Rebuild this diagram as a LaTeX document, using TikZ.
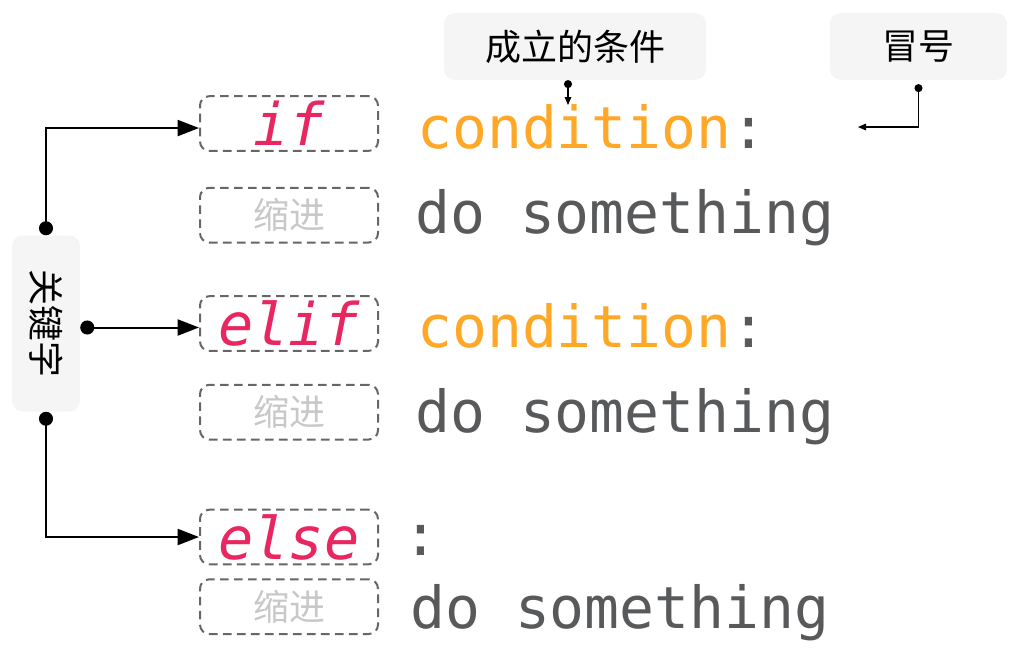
\documentclass[tikz,border=0pt]{standalone}
\usepackage{fontspec}
\usepackage{graphicx}
\usepackage{xcolor}
\usetikzlibrary{arrows.meta, positioning}
\newfontfamily\cjkfont{Noto Sans CJK SC}
\newfontfamily\codefont{DejaVu Sans Mono}
\definecolor{condorange}{HTML}{FFA726}
\definecolor{kwpink}{HTML}{E8265F}
\definecolor{codegray}{HTML}{58595B}
\definecolor{dashgray}{HTML}{666666}
\definecolor{indentgray}{HTML}{C8C8C8}
\definecolor{lblfill}{HTML}{F5F5F5}

\begin{document}
\begin{tikzpicture}[
            x=0.75pt, y=-0.75pt,
            kwbox/.style={draw=dashgray, line width=1.5pt, dash pattern=on 6.5pt off 4pt, rounded corners=7pt,
                minimum width=133.5pt, minimum height=41pt, inner sep=0pt, text=kwpink,
                font=\codefont\itshape\fontsize{44}{44}\selectfont},
            indentbox/.style={kwbox, text=indentgray, font=\cjkfont\fontsize{27}{27}\selectfont},
            lblbox/.style={fill=lblfill, rounded corners=8pt, inner sep=0pt, font=\cjkfont\fontsize{27}{27}\selectfont},
            code/.style={anchor=base west, inner sep=0pt, text=codegray, font=\codefont\fontsize{43.5}{43.5}\selectfont},
            arrowbig/.style={{Circle[length=10.5pt]}-{Triangle[length=16pt, width=12pt]}, line width=1.5pt},
            arrowsmall/.style={{Circle[length=6pt]}-{Triangle[length=6pt, width=5pt]}, line width=0.8pt},
        ]
            \useasboundingbox (0,0) rectangle (1031,654);

            % Keywords and indents
            \node[kwbox] (ifkw) at (289,123.5) {if};
            \node[indentbox, below=26.25pt of ifkw] (indent1) {缩进};
            \node[kwbox] (elifkw) at (289,323.5) {elif};
            \node[indentbox, below=24pt of elifkw] (indent2) {缩进};
            \node[kwbox] (elsekw) at (289,537) {else};
            \node[indentbox, below=9.75pt of elsekw] (indent3) {缩进};

            % Code
            \node[code] (cond1) at (417,148) {\textcolor{condorange}{condition}:};
            \node[code] (body1) at (415,233) {do something};
            \node[code] (cond2) at (417,347) {\textcolor{condorange}{condition}:};
            \node[code] (body2) at (415,432) {do something};
            \node[code] (colon3) at (403,555) {:};
            \node[code] (body3) at (410,628) {do something};

            % Labels
            \node[lblbox, minimum width=51pt, minimum height=132pt] (kw) at (46,323.5) {\rotatebox{-90}{关键字}};
            \node[lblbox, minimum width=196.5pt, minimum height=50pt] (condlbl) at (575,46.5) {成立的条件};
            \node[lblbox, minimum width=133pt, minimum height=50pt] (colonlbl) at (918.5,46.5) {冒号};
            \coordinate (condtip) at (568,105);
            \coordinate (colontip) at (858,127);

            % Arrows
            \draw[arrowbig] (kw.north) |- ([yshift=-3.4pt]ifkw.west);
            \draw[arrowbig] ([yshift=-3pt]kw.east) -- ([yshift=-3pt]elifkw.west);
            \draw[arrowbig] (kw.south) |- (elsekw.west);
            \draw[arrowsmall] (condlbl.south -| condtip) -- (condtip);
            \draw[arrowsmall] ([yshift=-3pt]colonlbl.south) |- (colontip);

        \end{tikzpicture}
\end{document}
